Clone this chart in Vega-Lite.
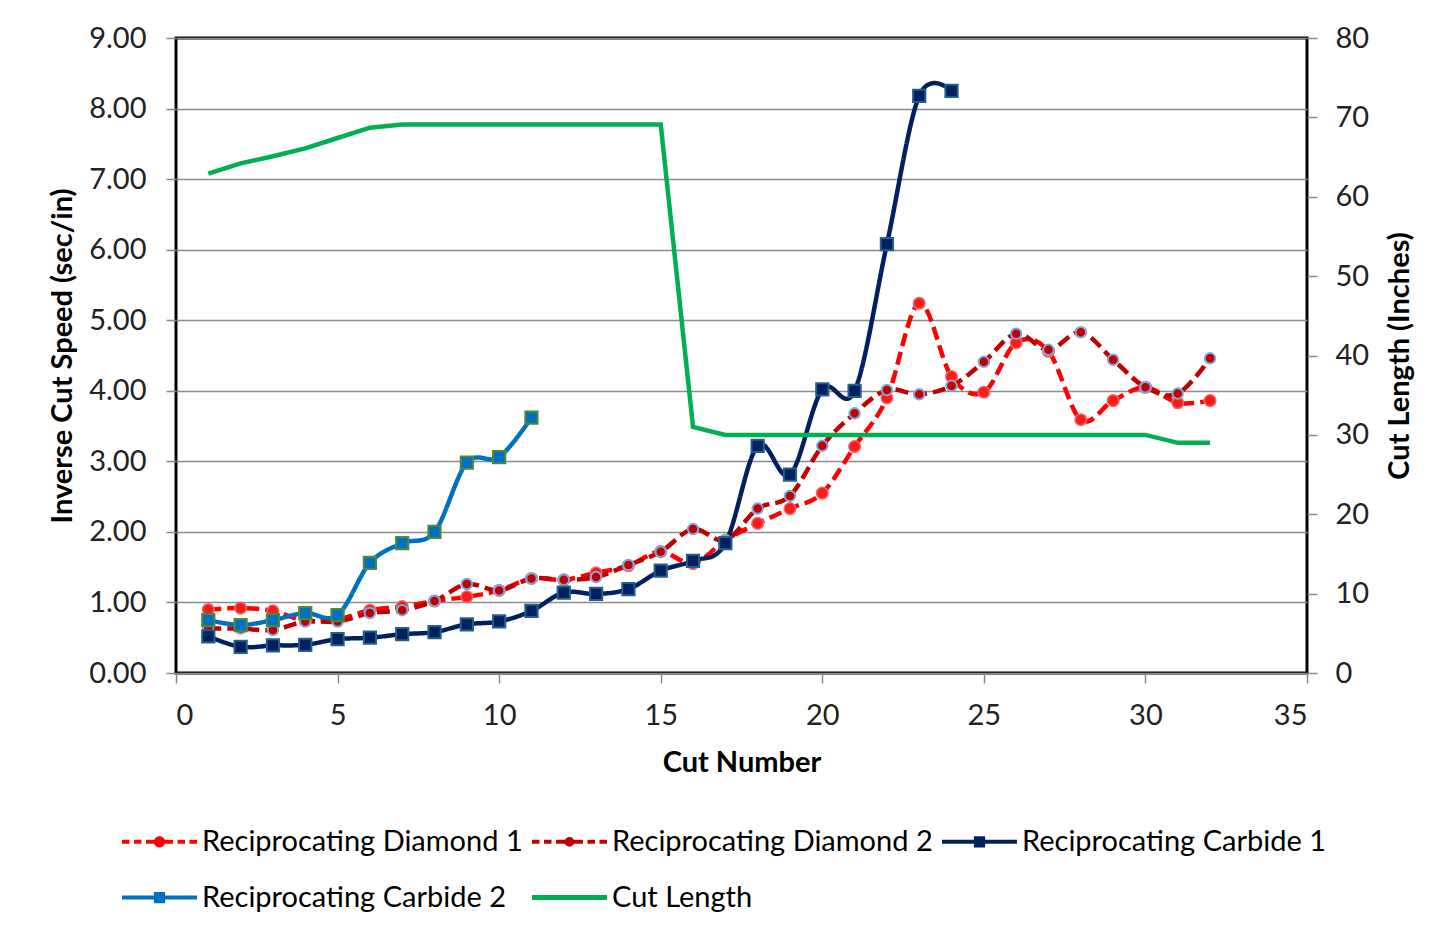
{
  "$schema": "https://vega.github.io/schema/vega-lite/v6.json",
  "width": 1131,
  "height": 635,
  "autosize": {"type": "none"},
  "padding": {"left": 176, "top": 38, "right": 126, "bottom": 258},
  "background": "white",
  "config": {
    "font": "Lato",
    "view": {"stroke": "#000000", "strokeWidth": 3},
    "axis": {
      "labelFont": "Lato", "labelFontSize": 29, "labelColor": "#222222",
      "titleFont": "Lato", "titleFontSize": 29, "titleFontWeight": "bold", "titleColor": "#000000",
      "tickColor": "#888888", "tickSize": 10, "tickWidth": 1.5, "domain": false
    },
    "legend": {
      "labelFont": "Lato", "labelFontSize": 29, "labelColor": "#000000"
    }
  },
  "datasets": {
    "speed": [
      {"cut": 1, "series": "Reciprocating Diamond 1", "value": 0.90},
      {"cut": 2, "series": "Reciprocating Diamond 1", "value": 0.92},
      {"cut": 3, "series": "Reciprocating Diamond 1", "value": 0.88},
      {"cut": 4, "series": "Reciprocating Diamond 1", "value": 0.74},
      {"cut": 5, "series": "Reciprocating Diamond 1", "value": 0.76},
      {"cut": 6, "series": "Reciprocating Diamond 1", "value": 0.89},
      {"cut": 7, "series": "Reciprocating Diamond 1", "value": 0.94},
      {"cut": 8, "series": "Reciprocating Diamond 1", "value": 1.02},
      {"cut": 9, "series": "Reciprocating Diamond 1", "value": 1.08},
      {"cut": 10, "series": "Reciprocating Diamond 1", "value": 1.17},
      {"cut": 11, "series": "Reciprocating Diamond 1", "value": 1.34},
      {"cut": 12, "series": "Reciprocating Diamond 1", "value": 1.32},
      {"cut": 13, "series": "Reciprocating Diamond 1", "value": 1.42},
      {"cut": 14, "series": "Reciprocating Diamond 1", "value": 1.52},
      {"cut": 15, "series": "Reciprocating Diamond 1", "value": 1.72},
      {"cut": 16, "series": "Reciprocating Diamond 1", "value": 1.55},
      {"cut": 17, "series": "Reciprocating Diamond 1", "value": 1.88},
      {"cut": 18, "series": "Reciprocating Diamond 1", "value": 2.12},
      {"cut": 19, "series": "Reciprocating Diamond 1", "value": 2.33},
      {"cut": 20, "series": "Reciprocating Diamond 1", "value": 2.55},
      {"cut": 21, "series": "Reciprocating Diamond 1", "value": 3.21},
      {"cut": 22, "series": "Reciprocating Diamond 1", "value": 3.90},
      {"cut": 23, "series": "Reciprocating Diamond 1", "value": 5.24},
      {"cut": 24, "series": "Reciprocating Diamond 1", "value": 4.20},
      {"cut": 25, "series": "Reciprocating Diamond 1", "value": 3.98},
      {"cut": 26, "series": "Reciprocating Diamond 1", "value": 4.68},
      {"cut": 27, "series": "Reciprocating Diamond 1", "value": 4.56},
      {"cut": 28, "series": "Reciprocating Diamond 1", "value": 3.59},
      {"cut": 29, "series": "Reciprocating Diamond 1", "value": 3.86},
      {"cut": 30, "series": "Reciprocating Diamond 1", "value": 4.05},
      {"cut": 31, "series": "Reciprocating Diamond 1", "value": 3.83},
      {"cut": 32, "series": "Reciprocating Diamond 1", "value": 3.86},
      {"cut": 1, "series": "Reciprocating Diamond 2", "value": 0.63},
      {"cut": 2, "series": "Reciprocating Diamond 2", "value": 0.63},
      {"cut": 3, "series": "Reciprocating Diamond 2", "value": 0.61},
      {"cut": 4, "series": "Reciprocating Diamond 2", "value": 0.73},
      {"cut": 5, "series": "Reciprocating Diamond 2", "value": 0.73},
      {"cut": 6, "series": "Reciprocating Diamond 2", "value": 0.85},
      {"cut": 7, "series": "Reciprocating Diamond 2", "value": 0.89},
      {"cut": 8, "series": "Reciprocating Diamond 2", "value": 1.02},
      {"cut": 9, "series": "Reciprocating Diamond 2", "value": 1.26},
      {"cut": 10, "series": "Reciprocating Diamond 2", "value": 1.17},
      {"cut": 11, "series": "Reciprocating Diamond 2", "value": 1.34},
      {"cut": 12, "series": "Reciprocating Diamond 2", "value": 1.32},
      {"cut": 13, "series": "Reciprocating Diamond 2", "value": 1.36},
      {"cut": 14, "series": "Reciprocating Diamond 2", "value": 1.53},
      {"cut": 15, "series": "Reciprocating Diamond 2", "value": 1.72},
      {"cut": 16, "series": "Reciprocating Diamond 2", "value": 2.04},
      {"cut": 17, "series": "Reciprocating Diamond 2", "value": 1.88},
      {"cut": 18, "series": "Reciprocating Diamond 2", "value": 2.33},
      {"cut": 19, "series": "Reciprocating Diamond 2", "value": 2.51},
      {"cut": 20, "series": "Reciprocating Diamond 2", "value": 3.22},
      {"cut": 21, "series": "Reciprocating Diamond 2", "value": 3.68},
      {"cut": 22, "series": "Reciprocating Diamond 2", "value": 4.01},
      {"cut": 23, "series": "Reciprocating Diamond 2", "value": 3.95},
      {"cut": 24, "series": "Reciprocating Diamond 2", "value": 4.07},
      {"cut": 25, "series": "Reciprocating Diamond 2", "value": 4.41},
      {"cut": 26, "series": "Reciprocating Diamond 2", "value": 4.81},
      {"cut": 27, "series": "Reciprocating Diamond 2", "value": 4.58},
      {"cut": 28, "series": "Reciprocating Diamond 2", "value": 4.83},
      {"cut": 29, "series": "Reciprocating Diamond 2", "value": 4.44},
      {"cut": 30, "series": "Reciprocating Diamond 2", "value": 4.05},
      {"cut": 31, "series": "Reciprocating Diamond 2", "value": 3.96},
      {"cut": 32, "series": "Reciprocating Diamond 2", "value": 4.46},
      {"cut": 1, "series": "Reciprocating Carbide 1", "value": 0.52},
      {"cut": 2, "series": "Reciprocating Carbide 1", "value": 0.37},
      {"cut": 3, "series": "Reciprocating Carbide 1", "value": 0.39},
      {"cut": 4, "series": "Reciprocating Carbide 1", "value": 0.40},
      {"cut": 5, "series": "Reciprocating Carbide 1", "value": 0.48},
      {"cut": 6, "series": "Reciprocating Carbide 1", "value": 0.50},
      {"cut": 7, "series": "Reciprocating Carbide 1", "value": 0.55},
      {"cut": 8, "series": "Reciprocating Carbide 1", "value": 0.58},
      {"cut": 9, "series": "Reciprocating Carbide 1", "value": 0.69},
      {"cut": 10, "series": "Reciprocating Carbide 1", "value": 0.73},
      {"cut": 11, "series": "Reciprocating Carbide 1", "value": 0.88},
      {"cut": 12, "series": "Reciprocating Carbide 1", "value": 1.14},
      {"cut": 13, "series": "Reciprocating Carbide 1", "value": 1.12},
      {"cut": 14, "series": "Reciprocating Carbide 1", "value": 1.19},
      {"cut": 15, "series": "Reciprocating Carbide 1", "value": 1.45},
      {"cut": 16, "series": "Reciprocating Carbide 1", "value": 1.59},
      {"cut": 17, "series": "Reciprocating Carbide 1", "value": 1.84},
      {"cut": 18, "series": "Reciprocating Carbide 1", "value": 3.22},
      {"cut": 19, "series": "Reciprocating Carbide 1", "value": 2.81},
      {"cut": 20, "series": "Reciprocating Carbide 1", "value": 4.02},
      {"cut": 21, "series": "Reciprocating Carbide 1", "value": 4.00},
      {"cut": 22, "series": "Reciprocating Carbide 1", "value": 6.08},
      {"cut": 23, "series": "Reciprocating Carbide 1", "value": 8.18},
      {"cut": 24, "series": "Reciprocating Carbide 1", "value": 8.25},
      {"cut": 1, "series": "Reciprocating Carbide 2", "value": 0.75},
      {"cut": 2, "series": "Reciprocating Carbide 2", "value": 0.68},
      {"cut": 3, "series": "Reciprocating Carbide 2", "value": 0.75},
      {"cut": 4, "series": "Reciprocating Carbide 2", "value": 0.85},
      {"cut": 5, "series": "Reciprocating Carbide 2", "value": 0.82},
      {"cut": 6, "series": "Reciprocating Carbide 2", "value": 1.56},
      {"cut": 7, "series": "Reciprocating Carbide 2", "value": 1.84},
      {"cut": 8, "series": "Reciprocating Carbide 2", "value": 2.00},
      {"cut": 9, "series": "Reciprocating Carbide 2", "value": 2.98},
      {"cut": 10, "series": "Reciprocating Carbide 2", "value": 3.06},
      {"cut": 11, "series": "Reciprocating Carbide 2", "value": 3.62}
    ],
    "length": [
      {"cut": 1, "series": "Cut Length", "value": 62.9},
      {"cut": 2, "series": "Cut Length", "value": 64.2},
      {"cut": 3, "series": "Cut Length", "value": 65.1},
      {"cut": 4, "series": "Cut Length", "value": 66.1},
      {"cut": 5, "series": "Cut Length", "value": 67.4},
      {"cut": 6, "series": "Cut Length", "value": 68.7},
      {"cut": 7, "series": "Cut Length", "value": 69.1},
      {"cut": 8, "series": "Cut Length", "value": 69.1},
      {"cut": 9, "series": "Cut Length", "value": 69.1},
      {"cut": 10, "series": "Cut Length", "value": 69.1},
      {"cut": 11, "series": "Cut Length", "value": 69.1},
      {"cut": 12, "series": "Cut Length", "value": 69.1},
      {"cut": 13, "series": "Cut Length", "value": 69.1},
      {"cut": 14, "series": "Cut Length", "value": 69.1},
      {"cut": 15, "series": "Cut Length", "value": 69.1},
      {"cut": 16, "series": "Cut Length", "value": 31.0},
      {"cut": 17, "series": "Cut Length", "value": 30.0},
      {"cut": 18, "series": "Cut Length", "value": 30.0},
      {"cut": 19, "series": "Cut Length", "value": 30.0},
      {"cut": 20, "series": "Cut Length", "value": 30.0},
      {"cut": 21, "series": "Cut Length", "value": 30.0},
      {"cut": 22, "series": "Cut Length", "value": 30.0},
      {"cut": 23, "series": "Cut Length", "value": 30.0},
      {"cut": 24, "series": "Cut Length", "value": 30.0},
      {"cut": 25, "series": "Cut Length", "value": 30.0},
      {"cut": 26, "series": "Cut Length", "value": 30.0},
      {"cut": 27, "series": "Cut Length", "value": 30.0},
      {"cut": 28, "series": "Cut Length", "value": 30.0},
      {"cut": 29, "series": "Cut Length", "value": 30.0},
      {"cut": 30, "series": "Cut Length", "value": 30.0},
      {"cut": 31, "series": "Cut Length", "value": 29.0},
      {"cut": 32, "series": "Cut Length", "value": 29.0}
    ]
  },
  "encoding": {
    "x": {
      "field": "cut", "type": "quantitative",
      "scale": {"domain": [0, 35], "nice": false, "zero": false},
      "axis": {
        "title": "Cut Number", "values": [0, 5, 10, 15, 20, 25, 30, 35],
        "grid": false, "labelPadding": 18, "titlePadding": 18
      }
    }
  },
  "layer": [
    {
      "data": {"name": "speed"},
      "encoding": {
        "y": {
          "field": "value", "type": "quantitative",
          "scale": {"domain": [0, 9], "nice": false, "zero": true},
          "axis": {
            "title": "Inverse Cut Speed (sec/in)",
            "values": [0, 1, 2, 3, 4, 5, 6, 7, 8, 9],
            "format": ".2f", "grid": true, "gridColor": "#8c8c8c", "gridWidth": 1.5,
            "labelPadding": 20, "titlePadding": 11
          }
        }
      },
      "layer": [
        {
          "mark": {"type": "point", "filled": true, "opacity": 0},
          "encoding": {
            "color": {
              "field": "series", "type": "nominal",
              "scale": {
                "domain": ["Reciprocating Diamond 1", "Reciprocating Diamond 2", "Reciprocating Carbide 1", "Reciprocating Carbide 2", "Cut Length"],
                "range": ["#ff0000", "#c00000", "#002060", "#0070c0", "#00b050"]
              },
              "legend": {
                "title": null, "orient": "none", "legendX": -54, "legendY": 766,
                "direction": "horizontal", "columns": 3, "columnPadding": 9, "rowPadding": 3,
                "symbolSize": 5625, "symbolOpacity": 1, "symbolStrokeWidth": 0,
                "labelOffset": 5, "labelLimit": 600
              }
            },
            "shape": {
              "field": "series", "type": "nominal",
              "scale": {
                "domain": ["Reciprocating Diamond 1", "Reciprocating Diamond 2", "Reciprocating Carbide 1", "Reciprocating Carbide 2", "Cut Length"],
                "range": [
                  "M-1,-0.055H-0.8V0.055H-1Z M-0.68,-0.055H-0.48V0.055H-0.68Z M-0.36,-0.055H0.36V0.055H-0.36Z M0.48,-0.055H0.68V0.055H0.48Z M0.8,-0.055H1V0.055H0.8Z M-0.15,0A0.15,0.15 0 1,1 0.15,0A0.15,0.15 0 1,1 -0.15,0Z",
                  "M-1,-0.055H-0.8V0.055H-1Z M-0.68,-0.055H-0.48V0.055H-0.68Z M-0.36,-0.055H0.36V0.055H-0.36Z M0.48,-0.055H0.68V0.055H0.48Z M0.8,-0.055H1V0.055H0.8Z M-0.13,0A0.13,0.13 0 1,1 0.13,0A0.13,0.13 0 1,1 -0.13,0Z",
                  "M-1,-0.055H1V0.055H-1Z M-0.15,-0.15H0.15V0.15H-0.15Z",
                  "M-1,-0.055H1V0.055H-1Z M-0.15,-0.15H0.15V0.15H-0.15Z",
                  "M-1,-0.065H1V0.065H-1Z"
                ]
              },
              "legend": {
                "title": null, "orient": "none", "legendX": -54, "legendY": 766,
                "direction": "horizontal", "columns": 3, "columnPadding": 9, "rowPadding": 3,
                "symbolSize": 5625, "symbolOpacity": 1, "symbolStrokeWidth": 0,
                "labelOffset": 5, "labelLimit": 600
              }
            }
          }
        },
        {
          "mark": {"type": "line", "interpolate": "cardinal", "tension": 0, "strokeWidth": 4.5},
          "encoding": {
            "color": {"field": "series", "type": "nominal"},
            "strokeDash": {
              "field": "series", "type": "nominal", "legend": null,
              "scale": {
                "domain": ["Reciprocating Diamond 1", "Reciprocating Diamond 2", "Reciprocating Carbide 1", "Reciprocating Carbide 2"],
                "range": [[13, 6], [13, 6], [1, 0], [1, 0]]
              }
            }
          }
        },
        {
          "transform": [{"filter": "datum.series === 'Reciprocating Diamond 1'"}],
          "mark": {"type": "point", "shape": "circle", "filled": true, "size": 135, "fill": "#ff1a1a", "stroke": "#e86a6a", "strokeWidth": 1.5, "opacity": 1},
          "encoding": {"y": {"field": "value", "type": "quantitative"}}
        },
        {
          "transform": [{"filter": "datum.series === 'Reciprocating Diamond 2'"}],
          "mark": {"type": "point", "shape": "circle", "filled": true, "size": 110, "fill": "#c00000", "stroke": "#7aa7dc", "strokeWidth": 2, "opacity": 1},
          "encoding": {"y": {"field": "value", "type": "quantitative"}}
        },
        {
          "transform": [{"filter": "datum.series === 'Reciprocating Carbide 1'"}],
          "mark": {"type": "point", "shape": "square", "filled": true, "size": 150, "fill": "#002060", "stroke": "#245f8c", "strokeWidth": 2, "opacity": 1},
          "encoding": {"y": {"field": "value", "type": "quantitative"}}
        },
        {
          "transform": [{"filter": "datum.series === 'Reciprocating Carbide 2'"}],
          "mark": {"type": "point", "shape": "square", "filled": true, "size": 150, "fill": "#0070c0", "stroke": "#4e8a3a", "strokeWidth": 2, "opacity": 1},
          "encoding": {"y": {"field": "value", "type": "quantitative"}}
        }
      ]
    },
    {
      "data": {"name": "length"},
      "mark": {"type": "line", "interpolate": "linear", "strokeWidth": 4.5},
      "encoding": {
        "y": {
          "field": "value", "type": "quantitative",
          "scale": {"domain": [0, 80], "nice": false, "zero": true},
          "axis": {
            "orient": "right", "title": "Cut Length (Inches)",
            "values": [0, 10, 20, 30, 40, 50, 60, 70, 80],
            "grid": false, "labelPadding": 18, "titlePadding": 17, "titleAngle": 270, "titleBaseline": "top"
          }
        },
        "color": {"field": "series", "type": "nominal"}
      }
    }
  ],
  "resolve": {"scale": {"y": "independent"}}
}
